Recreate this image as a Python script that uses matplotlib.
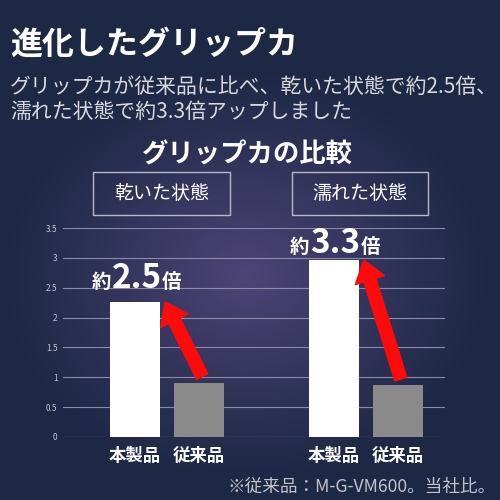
import numpy as np
import matplotlib
matplotlib.use("Agg")
import matplotlib.pyplot as plt
from matplotlib.patches import Rectangle

plt.rcParams["font.family"] = ["Noto Sans CJK JP", "DejaVu Sans"]

# data
groups = ["乾いた状態", "濡れた状態"]
products = ["本製品", "従来品"]
values = [[2.26, 0.91], [2.96, 0.87]]
ratios = ["2.5", "3.3"]
label_y = [2.5, 3.08]
yticks = [0, 0.5, 1, 1.5, 2, 2.5, 3, 3.5]
ytick_labels = ["0", "0.5", "1", "1.5", "2", "2.5", "3", "3.5"]

NAVY = np.array([0x1d, 0x28, 0x45]) / 255
GLOW = np.array([0x4e, 0x44, 0x77]) / 255

fig = plt.figure(figsize=(5, 5), dpi=100)

# background: navy with a purple glow in the middle
bg = fig.add_axes([0, 0, 1, 1])
yy, xx = np.mgrid[0:500, 0:500]
r = np.sqrt(((xx - 245) / 250.0) ** 2 + ((yy - 275) / 210.0) ** 2)
t = np.clip(1 - r, 0, 1) ** 1.1
img = NAVY[None, None, :] * (1 - t[..., None]) + GLOW[None, None, :] * t[..., None]
bg.imshow(img, extent=[0, 500, 500, 0], aspect="auto")
bg.set_xlim(0, 500); bg.set_ylim(500, 0)
bg.axis("off")

# headings
fig.text(0.02, 1 - 45 / 500, "進化したグリップカ", color="white", fontsize=23,
         fontweight="bold", va="center", ha="left")
fig.text(0.02, 1 - 87 / 500, "グリップカが従来品に比べ、乾いた状態で約2.5倍、",
         color="#d8d8de", fontsize=15.0, va="center", ha="left")
fig.text(0.02, 1 - 112 / 500, "濡れた状態で約3.3倍アップしました",
         color="#d8d8de", fontsize=15.0, va="center", ha="left")
fig.text(247 / 500, 1 - 155 / 500, "グリップカの比較", color="white", fontsize=19,
         fontweight="bold", va="center", ha="center")

# group header boxes
for (x0, x1), g in zip([(93, 230), (292, 428)], groups):
    fig.patches.append(Rectangle((x0 / 500, 1 - 215 / 500), (x1 - x0) / 500, 43 / 500,
                                 transform=fig.transFigure, fill=False,
                                 edgecolor="#b8b8c8", linewidth=1.0))
    fig.text((x0 + x1) / 2 / 500, 1 - 193.5 / 500, g, color="white", fontsize=13.7,
             va="center", ha="center")

# chart
ax = fig.add_axes([63 / 500, 1 - 437 / 500, (445 - 63) / 500, (437 - 228) / 500])
ax.patch.set_alpha(0)
xpos = [[0, 1], [3.1, 4.1]]
for gi in range(2):
    ax.bar(xpos[gi], values[gi], width=0.78, color=["white", "#8a8a8a"], zorder=3)
ax.set_xlim(-1.125, 4.84)
ax.set_ylim(0, 3.5)
ax.set_yticks(yticks)
ax.set_yticklabels(ytick_labels)
ax.set_xticks(xpos[0] + xpos[1])
ax.set_xticklabels(products * 2)
ax.tick_params(axis="y", length=0, pad=4, labelsize=6, labelcolor="#c4c4d0")
ax.tick_params(axis="x", length=0, pad=7, labelsize=12.5, labelcolor="white")
for lbl in ax.get_xticklabels():
    lbl.set_fontweight("bold")
for s in ax.spines.values():
    s.set_visible(False)
ax.yaxis.grid(True, color="#8c89aa", linewidth=0.8, zorder=0)
ax.set_axisbelow(True)

# ratio labels and arrows
for gi in range(2):
    wx, gx = xpos[gi]
    wv, gv = values[gi]
    y = label_y[gi]
    t1 = ax.text(wx - 0.68, y, "約", color="white", fontsize=14,
                 fontweight="bold", ha="left", va="baseline", zorder=5)
    t2 = ax.annotate(ratios[gi], xy=(1, y), xycoords=(t1, "data"), xytext=(0.3, 0),
                     textcoords="offset points", color="white", fontsize=24,
                     fontweight="bold", ha="left", va="baseline", zorder=5)
    ax.annotate("倍", xy=(1, y), xycoords=(t2, "data"), xytext=(0.3, 0),
                textcoords="offset points", color="white", fontsize=14,
                fontweight="bold", ha="left", va="baseline", zorder=5)
    ax.annotate("", xy=(wx + 0.47, wv), xytext=(gx + 0.05, gv + 0.1),
                arrowprops=dict(arrowstyle="simple,head_width=22,head_length=15,tail_width=9",
                                mutation_scale=1, color="#ff0a0a", shrinkA=0, shrinkB=0),
                zorder=6)

fig.text(496 / 500, 1 - 487 / 500, "※従来品：M-G-VM600。当社比。", color="#c4c4cc",
         fontsize=12.7, va="center", ha="right")

fig.savefig("out.png", dpi=100)
